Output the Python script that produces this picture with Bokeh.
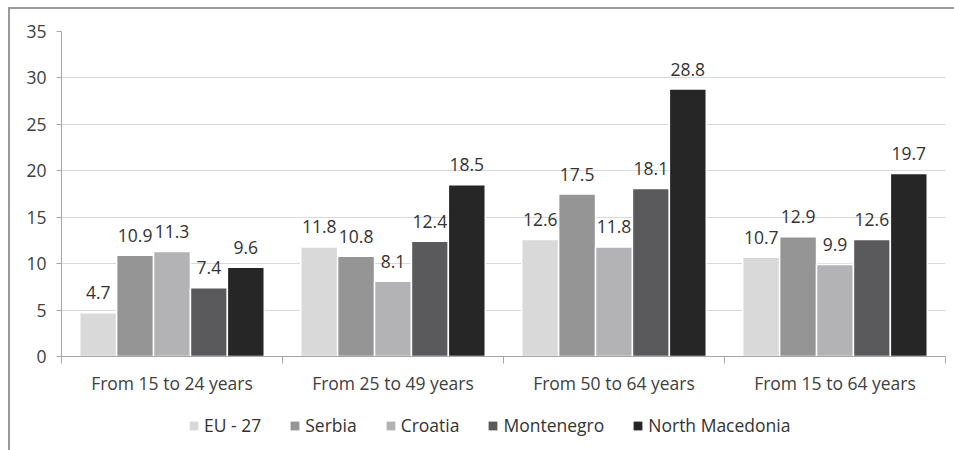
from bokeh.plotting import figure
from bokeh.models import (ColumnDataSource, FixedTicker, Legend, LegendItem,
                          Range1d, Column)
from bokeh.core.properties import value
from bokeh.embed import file_html
from bokeh.resources import INLINE

# Unemployment rate by age group (%)
age_groups = ["From 15 to 24 years", "From 25 to 49 years",
              "From 50 to 64 years", "From 15 to 64 years"]
countries = ["EU - 27", "Serbia", "Croatia", "Montenegro", "North Macedonia"]
eu27 = [4.7, 11.8, 12.6, 10.7]
serbia = [10.9, 10.8, 17.5, 12.9]
croatia = [11.3, 8.1, 11.8, 9.9]
montenegro = [7.4, 12.4, 18.1, 12.6]
north_macedonia = [9.6, 18.5, 28.8, 19.7]
y_ticks = [0, 5, 10, 15, 20, 25, 30, 35]

series = [eu27, serbia, croatia, montenegro, north_macedonia]
colors = ["#d9d9d9", "#959595", "#b3b3b5", "#5a5a5c", "#262626"]
FONT = "Open Sans"
FS = "17.5px"
BAR_W = 0.167
offsets = [-2 * BAR_W, -BAR_W, 0.0, BAR_W, 2 * BAR_W]

p = figure(width=944, height=396, output_backend="svg", toolbar_location=None,
           x_range=Range1d(0, len(age_groups)), y_range=Range1d(0, 35),
           min_border_left=51, min_border_top=22, min_border_right=9,
           min_border_bottom=49)
p.outline_line_color = None
p.background_fill_color = "white"
p.border_fill_color = "white"

# horizontal grid only
p.xgrid.grid_line_color = None
p.ygrid.grid_line_color = "#d9d9d9"
p.ygrid.grid_line_width = 1

# y axis
p.yaxis.ticker = FixedTicker(ticks=y_ticks)
p.yaxis.axis_line_color = "#a6a6a6"
p.yaxis.major_tick_line_color = "#a6a6a6"
p.yaxis.major_tick_out = 5
p.yaxis.major_tick_in = 0
p.yaxis.minor_tick_line_color = None
p.yaxis.major_label_text_font = FONT
p.yaxis.major_label_text_font_size = FS
p.yaxis.major_label_text_color = "#404040"
p.yaxis.major_label_standoff = 10

# x axis: labels at group centres, tick marks at group boundaries
centres = [i + 0.5 for i in range(len(age_groups))]
bounds = [float(i) for i in range(len(age_groups) + 1)]
p.xaxis.ticker = FixedTicker(ticks=centres, minor_ticks=bounds)
p.xaxis.major_label_overrides = {c: name for c, name in zip(centres, age_groups)}
p.xaxis.axis_line_color = "#a6a6a6"
p.xaxis.major_tick_line_color = None
p.xaxis.minor_tick_line_color = "#a6a6a6"
p.xaxis.minor_tick_out = 7
p.xaxis.minor_tick_in = 0
p.xaxis.major_label_text_font = FONT
p.xaxis.major_label_text_font_size = FS
p.xaxis.major_label_text_color = "#404040"
p.xaxis.major_label_standoff = 7

for name, vals, col, off in zip(countries, series, colors, offsets):
    src = ColumnDataSource(dict(x=[c + off for c in centres], top=vals,
                                label=[f"{v:.1f}" for v in vals]))
    p.vbar(x="x", top="top", width=BAR_W, source=src, fill_color=col,
           line_color="white", line_width=1.5)
    p.text(x="x", y="top", text="label", source=src, text_align="center",
           text_baseline="alphabetic", y_offset=-20,
           text_font=value(FONT), text_font_size=FS, text_color="#333333")

# legend strip underneath the chart
leg = figure(width=944, height=45, output_backend="svg", toolbar_location=None,
             x_range=Range1d(0, 1), y_range=Range1d(0, 1),
             x_axis_location=None, y_axis_location=None, min_border=0)
leg.grid.visible = False
leg.outline_line_color = None
leg.background_fill_color = "white"
leg.border_fill_color = "white"
items = []
for name, col in zip(countries, colors):
    # zero-height swatch renderer: only its legend glyph is visible
    r = leg.vbar(x=[0.5], top=[0], bottom=[0], width=0.0, fill_color=col,
                 line_color=None)
    items.append(LegendItem(label=name, renderers=[r]))
legend = Legend(items=items, orientation="horizontal", location=(127, 13),
                label_text_font=FONT, label_text_font_size=FS,
                label_text_color="#333333", glyph_width=11, glyph_height=11,
                spacing=28, label_standoff=5, border_line_color=None,
                background_fill_alpha=0, margin=0, padding=0)
leg.add_layout(legend, "center")

page = Column(p, leg, spacing=0,
              styles={"border-left": "2px solid #9a9a9a",
                      "border-top": "2px solid #9a9a9a"},
              margin=(7, 0, 0, 8))

open("out.html", "w").write(file_html(page, INLINE))
